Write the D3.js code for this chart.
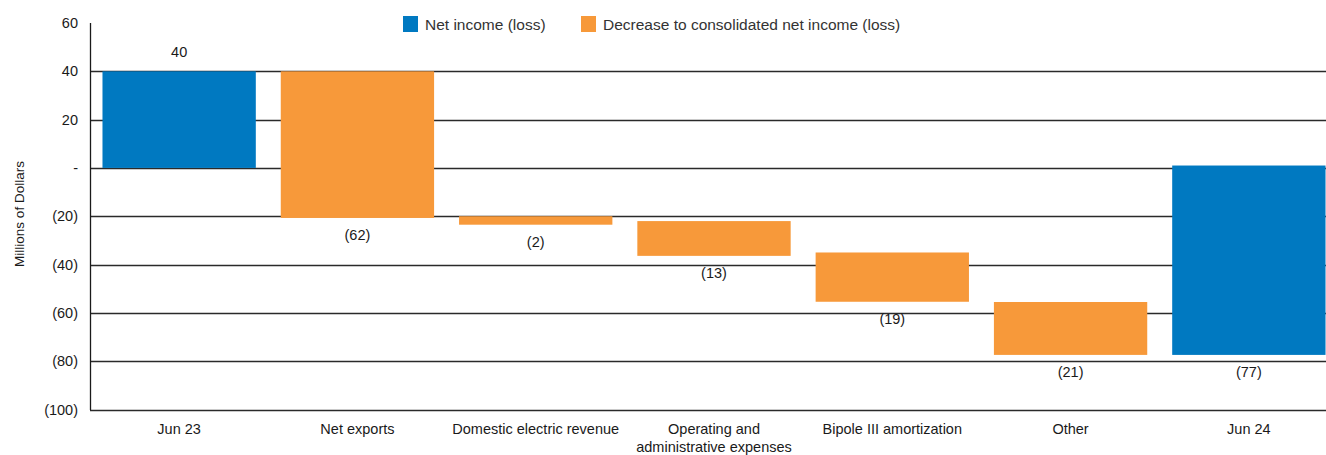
<!DOCTYPE html>
<html>
<script src='https://cdnjs.cloudflare.com/ajax/libs/d3/7.8.5/d3.min.js'></script>
<style>
body {margin:0; background:#fff;}
text {font-family: 'Liberation Sans', Arial, sans-serif; fill:#1a1a1a;}
</style>
<body onload='init()'>
<script>
// data
var categories = ['Jun 23', 'Net exports', 'Domestic electric revenue', 'Operating and|administrative expenses', 'Bipole III amortization', 'Other', 'Jun 24'];
var barStart = [0, 40, -20, -22, -35, -55.5, 1];
var barEnd = [40, -20.7, -23.5, -36.4, -55.4, -77.4, -77.4];
var valueLabels = ['40', '(62)', '(2)', '(13)', '(19)', '(21)', '(77)'];
var barKind = ['net', 'dec', 'dec', 'dec', 'dec', 'dec', 'net'];
var yTicks = [60, 40, 20, 0, -20, -40, -60, -80, -100];
var legendItems = [{key:'net', label:'Net income (loss)'}, {key:'dec', label:'Decrease to consolidated net income (loss)'}];

function init() {
var color = {net:'#0079c1', dec:'#f7993a'};

var x = d3.scaleBand().domain(categories).range([90, 1338]).paddingInner(0.14).paddingOuter(0.07);
var y = d3.scaleLinear().domain([-100, 60]).range([409.5, 23]);

var svg = d3.select('body')
.append('svg')
.attr('width', 1326)
.attr('height', 455);

// gridlines
svg.append('g')
.selectAll('line')
.data(yTicks.filter(function(d){return d < 60;}))
.enter()
.append('line')
.attr('x1', 90)
.attr('x2', 1326)
.attr('y1', function(d){return Math.round(y(d)) + 0.5;})
.attr('y2', function(d){return Math.round(y(d)) + 0.5;})
.style('stroke', '#2a2a2a')
.style('stroke-width', 1.3);

// bars
svg.append('g')
.selectAll('rect')
.data(categories)
.enter()
.append('rect')
.attr('x', function(d){return x(d);})
.attr('width', x.bandwidth())
.attr('y', function(d, i){return y(Math.max(barStart[i], barEnd[i]));})
.attr('height', function(d, i){return Math.abs(y(barStart[i]) - y(barEnd[i]));})
.style('fill', function(d, i){return color[barKind[i]];});

// value labels
svg.append('g')
.selectAll('text')
.data(categories)
.enter()
.append('text')
.attr('x', function(d){return x(d) + x.bandwidth() / 2;})
.attr('y', function(d, i){
  if (barEnd[i] > barStart[i]) return y(barEnd[i]) - 14;
  return y(barEnd[i]) + 22;
})
.style('text-anchor', 'middle')
.style('font-size', '14.5px')
.text(function(d, i){return valueLabels[i];});

// y axis
svg.append('line')
.attr('x1', 90.5).attr('x2', 90.5)
.attr('y1', y(60)).attr('y2', y(-100) + 0.5)
.style('stroke', '#1a1a1a')
.style('stroke-width', 1.3);

svg.append('g')
.selectAll('text')
.data(yTicks)
.enter()
.append('text')
.attr('x', 78)
.attr('y', function(d){return y(d) + 5;})
.style('text-anchor', 'end')
.style('font-size', '14.5px')
.text(function(d){
  if (d == 0) return '-';
  if (d < 0) return '(' + Math.abs(d) + ')';
  return d;
});

svg.append('text')
.attr('transform', 'translate(24,214)rotate(-90)')
.style('text-anchor', 'middle')
.style('font-size', '13.5px')
.text('Millions of Dollars');

// x labels
var xl = svg.append('g')
.selectAll('text')
.data(categories)
.enter()
.append('text')
.attr('x', function(d){return x(d) + x.bandwidth() / 2;})
.attr('y', 434)
.style('text-anchor', 'middle')
.style('font-size', '14.5px');
xl.each(function(d){
  var parts = d.split('|');
  var t = d3.select(this);
  parts.forEach(function(p, j){
    t.append('tspan')
    .attr('x', x(d) + x.bandwidth() / 2)
    .attr('dy', j == 0 ? 0 : 18)
    .text(p);
  });
});

// legend
var legendX = [403, 581];
var legend = svg.selectAll('.legend')
.data(legendItems)
.enter()
.append('g')
.attr('class', 'legend')
.attr('transform', function(d, i){return 'translate(' + legendX[i] + ',16)';});
legend.append('rect')
.attr('width', 15)
.attr('height', 16)
.style('fill', function(d){return color[d.key];});
legend.append('text')
.attr('x', 22)
.attr('y', 13.5)
.style('font-size', '15.5px')
.style('fill', '#333')
.text(function(d){return d.label;});
}
</script>
</body>
</html>
